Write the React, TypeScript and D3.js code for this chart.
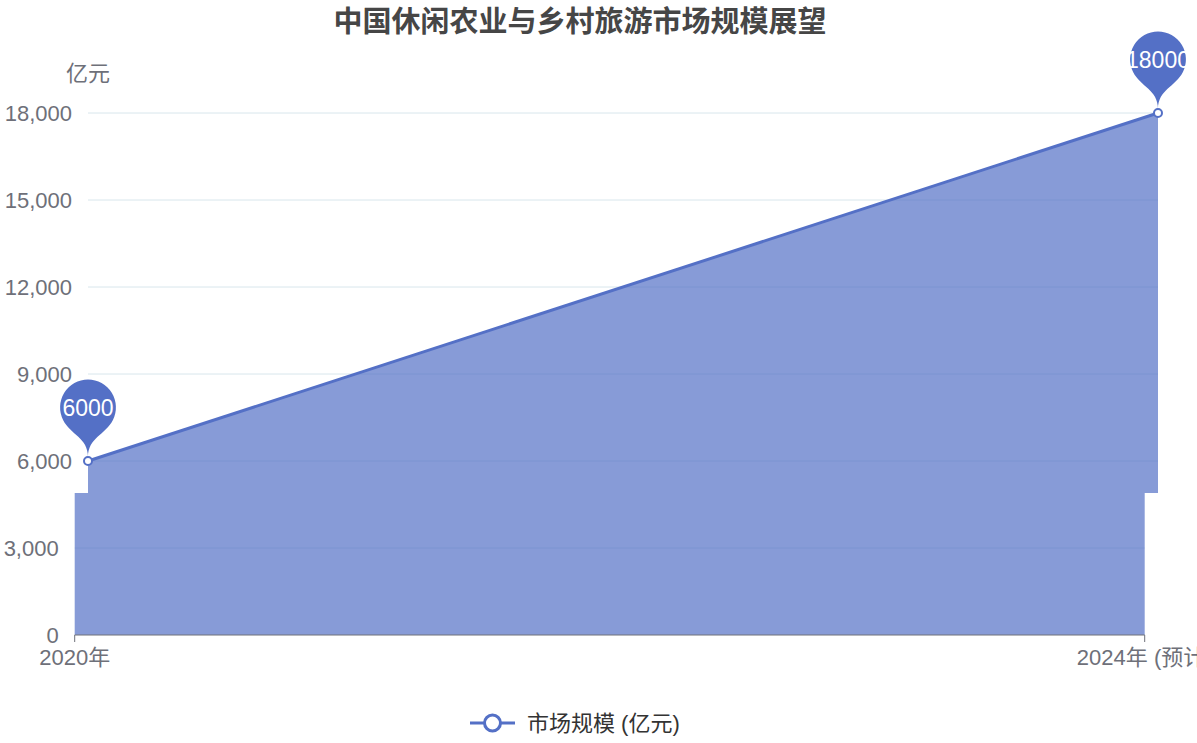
import * as d3 from "d3";

// chart data
const years = ["2020年", "2024年 (预计)"];
const marketSize = [6000, 18000];
const yTicks = [0, 3000, 6000, 9000, 12000, 15000, 18000];

const W = 1197;
const H = 743;
const BLUE = "#5470c6";
const FONT = "'Liberation Sans', 'Noto Sans CJK SC', sans-serif";

// the picture's lower band is shifted left a little
const SPLIT_Y = 493;
const SHIFT = -13.3;

const x = d3.scalePoint<string>().domain(years).range([88, 1158]);
const y = d3.scaleLinear().domain([0, 18000]).range([635, 113]);

const points: [number, number][] = years.map((c, i) => [x(c)!, y(marketSize[i])]);

const areaPath = d3
  .area<[number, number]>()
  .x((d) => d[0])
  .y0(y(0))
  .y1((d) => d[1])(points)!;

const linePath = d3.line()(points)!;

// echarts-like pin shape, tip at (px, py)
function pinPath(px: number, py: number, width: number, height: number) {
  const w = (width / 5) * 3;
  const h = Math.max(w, height);
  const r = w / 2;
  const dy = (r * r) / (h - r);
  const cy = py - h + r + dy;
  const angle = Math.asin(dy / r);
  const dx = Math.cos(angle) * r;
  const tanX = Math.sin(angle);
  const tanY = Math.cos(angle);
  const cpLen = r * 0.6;
  const cpLen2 = r * 0.7;
  const p = d3.path();
  p.moveTo(px - dx, cy + dy);
  p.arc(px, cy, r, Math.PI - angle, Math.PI * 2 + angle);
  p.bezierCurveTo(px + dx - tanX * cpLen, cy + dy + tanY * cpLen, px, py - cpLen2, px, py);
  p.bezierCurveTo(px, py - cpLen2, px - dx + tanX * cpLen, cy + dy + tanY * cpLen, px - dx, cy + dy);
  p.closePath();
  return { d: p.toString(), cy };
}

// top = part above SPLIT_Y, bottom = shifted band below it
function Plot({ top }: { top: boolean }) {
  const fmt = d3.format(",");
  const inPart = (py: number) => (top ? py < SPLIT_Y : py >= SPLIT_Y);
  return (
    <g fontFamily={FONT}>
      {/* grid */}
      {yTicks
        .filter((t) => t > 0)
        .map((t) => (
          <line key={t} x1={x.range()[0]} x2={x.range()[1]} y1={y(t)} y2={y(t)} stroke="#d8e6ec" strokeWidth={1} />
        ))}
      {/* y labels */}
      {yTicks
        .filter((t) => inPart(y(t)))
        .map((t) => (
          <text key={"l" + t} x={72} y={y(t)} dy="0.36em" textAnchor="end" fontSize={22} fill="#6e7079">
            {fmt(t)}
          </text>
        ))}
      {top && (
        <text x={88} y={73} dy="0.36em" textAnchor="middle" fontSize={22} fill="#6e7079">
          亿元
        </text>
      )}
      {/* area + line */}
      <path d={areaPath} fill={BLUE} fillOpacity={0.7} />
      <path d={linePath} fill="none" stroke={BLUE} strokeWidth={3} />
      {/* x axis */}
      <line x1={x.range()[0]} x2={x.range()[1]} y1={y(0)} y2={y(0)} stroke="#6e7079" strokeWidth={1} />
      {years.map((c) => (
        <g key={c}>
          <line x1={x(c)} x2={x(c)} y1={y(0)} y2={y(0) + 7} stroke="#6e7079" strokeWidth={1} />
          {!top && (
            <text x={x(c)} y={657} dy="0.36em" textAnchor="middle" fontSize={22} fill="#6e7079">
              {c}
            </text>
          )}
        </g>
      ))}
      {/* point symbols */}
      {points.map(([px, py], i) => (
        <circle key={i} cx={px} cy={py} r={4} fill="#fff" stroke={BLUE} strokeWidth={2} />
      ))}
      {/* pins */}
      {top &&
        points.map(([px, py], i) => {
          const pin = pinPath(px, py - 4, 93, 90);
          return (
            <g key={"p" + i}>
              <path d={pin.d} fill={BLUE} />
              <text x={px} y={pin.cy} dy="0.36em" textAnchor="middle" fontSize={23} fill="#fff">
                {marketSize[i]}
              </text>
            </g>
          );
        })}
    </g>
  );
}

export default function App() {
  return (
    <div style={{ position: "fixed", left: 0, top: 0, width: W, height: H, background: "#fff" }}>
      <svg width={W} height={H} style={{ display: "block" }}>
        <defs>
          <clipPath id="topClip">
            <rect x={0} y={0} width={W} height={SPLIT_Y} />
          </clipPath>
          <clipPath id="botClip">
            <rect x={0} y={SPLIT_Y} width={W} height={H - SPLIT_Y} />
          </clipPath>
        </defs>
        <text x={580} y={22} dy="0.36em" textAnchor="middle" fontSize={29} fontWeight="bold" fill="#464646" fontFamily={FONT}>
          中国休闲农业与乡村旅游市场规模展望
        </text>
        <g clipPath="url(#topClip)">
          <Plot top={true} />
        </g>
        <g clipPath="url(#botClip)">
          <g transform={`translate(${SHIFT},0)`}>
            <Plot top={false} />
          </g>
        </g>
        {/* legend */}
        <g fontFamily={FONT}>
          <line x1={470} x2={515} y1={723} y2={723} stroke={BLUE} strokeWidth={3} />
          <circle cx={492.5} cy={723} r={8} fill="#fff" stroke={BLUE} strokeWidth={3} />
          <text x={527} y={723} dy="0.36em" fontSize={22} fill="#333">
            市场规模 (亿元)
          </text>
        </g>
      </svg>
    </div>
  );
}
